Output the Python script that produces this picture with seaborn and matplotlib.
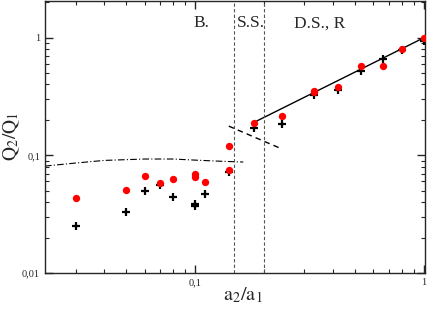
import numpy as np
import pandas as pd
import matplotlib
matplotlib.use('Agg')
import matplotlib.pyplot as plt
from matplotlib.ticker import FixedLocator, FuncFormatter, LogLocator, NullFormatter
import seaborn as sns

# measured ratios (red dots / black crosses)
a_ratio = [0.03, 0.05, 0.06, 0.07, 0.08, 0.10, 0.10, 0.11, 0.14, 0.14,
           0.18, 0.24, 0.33, 0.33, 0.42, 0.53, 0.66, 0.80, 1.0]
q_red = [0.0435, 0.0505, 0.0665, 0.0585, 0.063, 0.069, 0.0655, 0.0595, 0.0755, 0.12,
         0.19, 0.217, 0.355, 0.345, 0.384, 0.575, 0.575, 0.80, 1.0]
a_cross = [0.03, 0.05, 0.06, 0.07, 0.08, 0.10, 0.10, 0.11, 0.14,
           0.18, 0.24, 0.33, 0.42, 0.53, 0.66, 0.80, 1.0]
q_cross = [0.025, 0.0329, 0.0495, 0.056, 0.0443, 0.0389, 0.037, 0.0473, 0.0718,
           0.172, 0.183, 0.323, 0.36, 0.525, 0.655, 0.79, 0.944]

# fitted line for D.S. regime
fit_x = [0.18, 1.0]
fit_y = [0.19, 1.0]
# short dashed line at the S.S. transition
trans_x = [0.14, 0.237]
trans_y = [0.177, 0.114]
# dash-dot curve for B. regime
bd_x = [0.022, 0.03, 0.04, 0.06, 0.08, 0.10, 0.13, 0.162]
bd_y = [0.081, 0.086, 0.0905, 0.093, 0.093, 0.091, 0.089, 0.0877]
# regime boundaries
bounds = [0.148, 0.2]

sns.set_style('ticks')
plt.rcParams['font.family'] = ['Liberation Serif', 'DejaVu Serif']
plt.rcParams['mathtext.fontset'] = 'stix'

fig = plt.figure(figsize=(4.36, 3.12), dpi=100)
ax = fig.add_axes([0.103, 0.125, 0.872, 0.872])

df_red = pd.DataFrame({'a': a_ratio, 'q': q_red})
df_cross = pd.DataFrame({'a': a_cross, 'q': q_cross})

ax.plot(bd_x, bd_y, color='black', lw=0.8, dashes=[6, 2, 1, 2])
ax.plot(fit_x, fit_y, color='black', lw=1.0)
ax.plot(trans_x, trans_y, color='black', lw=1.0, dashes=[4, 3])
for b in bounds:
    ax.axvline(b, color='#555555', lw=0.8, dashes=[3, 2])

sns.scatterplot(data=df_cross, x='a', y='q', marker='+', color='black',
                s=40, linewidth=1.6, ax=ax, zorder=3)
sns.scatterplot(data=df_red, x='a', y='q', marker='o', color='red',
                s=28, linewidth=0, ax=ax, zorder=4)

ax.set_xscale('log')
ax.set_yscale('log')
ax.set_xlim(0.022, 1.01)
ax.set_ylim(0.01, 2.05)

fmt = FuncFormatter(lambda v, p: {1.0: '1', 0.1: '0,1', 0.01: '0,01'}.get(round(v, 3), ''))
ax.xaxis.set_major_locator(FixedLocator([0.1, 1.0]))
ax.yaxis.set_major_locator(FixedLocator([0.01, 0.1, 1.0]))
ax.xaxis.set_major_formatter(fmt)
ax.yaxis.set_major_formatter(fmt)
ax.xaxis.set_minor_locator(LogLocator(base=10, subs=np.arange(2, 10)))
ax.yaxis.set_minor_locator(LogLocator(base=10, subs=np.arange(2, 10)))
ax.xaxis.set_minor_formatter(NullFormatter())
ax.yaxis.set_minor_formatter(NullFormatter())
ax.tick_params(which='both', direction='in', top=True, right=True, labelsize=7.5)
ax.tick_params(which='major', length=6, width=1)
ax.tick_params(which='minor', length=3, width=0.8)
for s in ax.spines.values():
    s.set_linewidth(1.0)

ax.set_xlabel('')
ax.set_ylabel('')
fig.text(0.557, 0.053, r'$\mathrm{a_2/a_1}$', fontsize=14.5, ha='center', va='center')
fig.text(0.028, 0.564, r'$\mathrm{Q_2/Q_1}$', fontsize=14, ha='center', va='center',
         rotation=90)

ax.text(0.098, 1.32, 'B.', fontsize=12.5, ha='left', va='center')
ax.text(0.152, 1.32, 'S.S.', fontsize=12.5, ha='left', va='center')
ax.text(0.27, 1.32, 'D.S., R', fontsize=12.5, ha='left', va='center')

fig.savefig('out.png', dpi=100)
